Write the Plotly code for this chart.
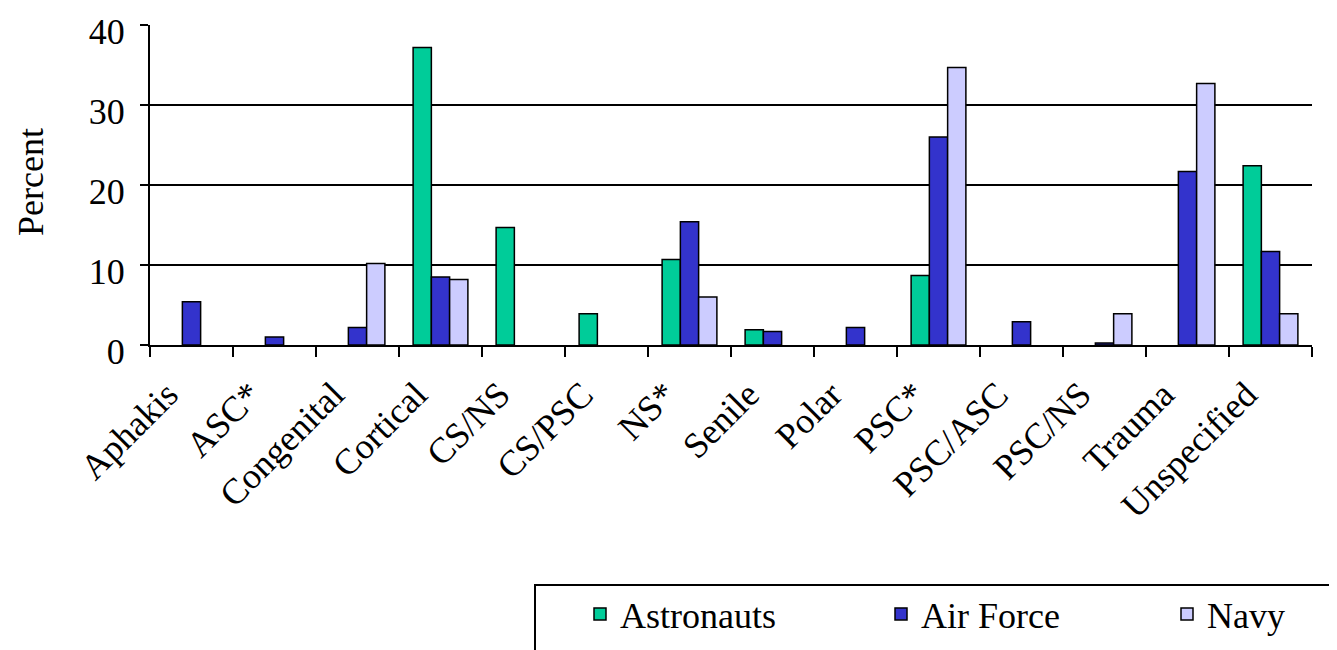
import plotly.graph_objects as go

categories = ["Aphakis", "ASC*", "Congenital", "Cortical", "CS/NS", "CS/PSC", "NS*",
              "Senile", "Polar", "PSC*", "PSC/ASC", "PSC/NS", "Trauma", "Unspecified"]
astronauts = [0, 0, 0, 37.2, 14.7, 3.9, 10.7, 1.9, 0, 8.7, 0, 0, 0, 22.4]
air_force = [5.4, 1.0, 2.2, 8.5, 0, 0, 15.4, 1.7, 2.2, 26.0, 2.9, 0.25, 21.7, 11.7]
navy = [0, 0, 10.2, 8.2, 0, 0, 6.0, 0, 0, 34.7, 0, 3.9, 32.7, 3.9]
y_ticks = [0, 10, 20, 30, 40]

series = [("Astronauts", astronauts, "#00CC99", "legend"),
          ("Air Force", air_force, "#3333CC", "legend2"),
          ("Navy", navy, "#CCCCFF", "legend3")]

font = "Liberation Serif, Times New Roman, serif"
FS = 36
OFF = 8  # page body offset
W, H = 1337, 650
L, R, T, B = 150 - OFF, 25 + OFF, 25 - OFF, 305 + OFF
pw = W - L - R
ph = H - T - B


def px_x(p):
    return (p - OFF - L) / pw


def px_y(p):
    return (H - B - (p - OFF)) / ph


fig = go.Figure()
for name, vals, color, lg in series:
    fig.add_trace(go.Bar(x=categories, y=[v if v else None for v in vals], name=name,
                         legend=lg,
                         marker=dict(color=color, line=dict(color="black", width=1.5))))

legend_common = dict(orientation="h", yanchor="middle", xanchor="left",
                     font=dict(family=font, size=FS, color="black"),
                     bgcolor="rgba(0,0,0,0)", borderwidth=0, itemclick=False)

fig.update_layout(
    width=W, height=H,
    margin=dict(l=L, r=R, t=T, b=B, autoexpand=False),
    paper_bgcolor="white", plot_bgcolor="white",
    barmode="group", bargap=0.34, bargroupgap=0,
    font=dict(family=font, size=FS, color="black"),
    showlegend=True,
    legend=dict(x=px_x(580), y=px_y(614), **legend_common),
    legend2=dict(x=px_x(881), y=px_y(614), **legend_common),
    legend3=dict(x=px_x(1167), y=px_y(614), **legend_common),
    xaxis=dict(type="category", showline=True, linecolor="black", linewidth=2,
               ticks="outside", tickson="boundaries", ticklen=10, tickwidth=2,
               tickcolor="black", tickangle=-45, showgrid=False, automargin=False,
               ticklabelshift=-24, ticklabelstandoff=12,
               tickfont=dict(family=font, size=FS, color="black")),
    yaxis=dict(range=[0, 40], tickvals=y_ticks, showline=True, linecolor="black", linewidth=2,
               showgrid=True, gridcolor="black", gridwidth=1.5, zeroline=False,
               ticks="outside", ticklen=8, tickwidth=2, tickcolor="black",
               ticklabelstandoff=8, ticklabelshift=6, automargin=False,
               ticklabeloverflow="allow",
               tickfont=dict(family=font, size=FS, color="black")),
    annotations=[dict(text="Percent", xref="paper", yref="paper",
                      x=px_x(31), y=px_y(182), xanchor="center", yanchor="middle",
                      textangle=-90, showarrow=False,
                      font=dict(family=font, size=FS, color="black"))],
    shapes=[dict(type="rect", xref="paper", yref="paper",
                 x0=px_x(535), x1=px_x(1345),
                 y0=px_y(660), y1=px_y(585),
                 line=dict(color="black", width=2), fillcolor="rgba(0,0,0,0)")],
)

fig.write_html("out.html")
